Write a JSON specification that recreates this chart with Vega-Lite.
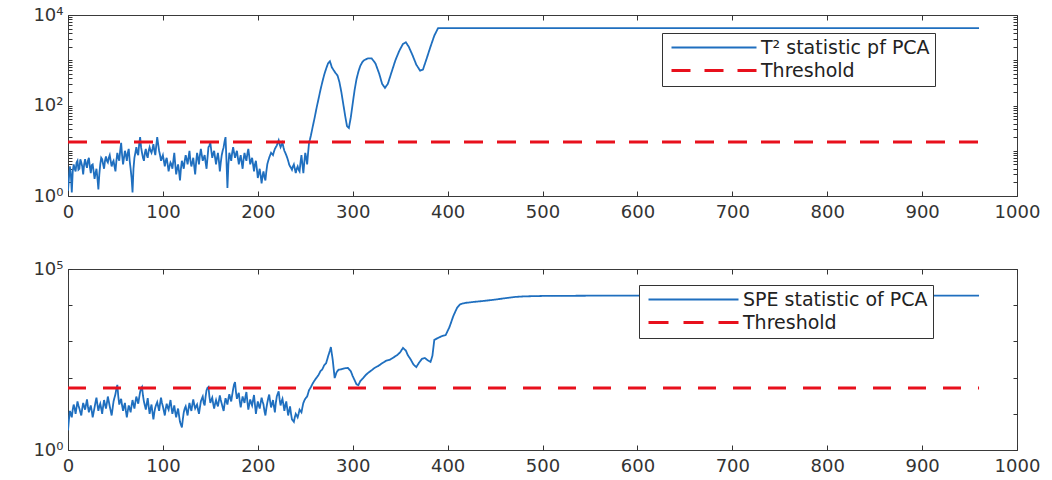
{
  "$schema": "https://vega.github.io/schema/vega-lite/v6.json",
  "padding": {"left": 32, "top": 5, "right": 5, "bottom": 5},
  "background": "white",
  "bounds": "flush",
  "spacing": 73,
  "config": {
    "view": {"stroke": "#3a3a3a", "strokeWidth": 1},
    "font": "DejaVu Sans",
    "axis": {"grid": false, "domain": false, "labelFont": "DejaVu Sans", "labelFontSize": 18, "labelColor": "#333333", "tickColor": "#333333", "tickWidth": 1, "labelFlush": false, "labelOverlap": false, "labelBound": false},
    "legend": {"labelFont": "DejaVu Sans", "labelFontSize": 19, "labelColor": "#222222"}
  },
  "datasets": {
    "t2": [
      {"i":0,"v":1.3},{"i":1,"v":2.5},{"i":2,"v":4.5},{"i":3,"v":3},{"i":4,"v":1.2},{"i":5,"v":3.5},{"i":6,"v":5},{"i":7,"v":4},{"i":8,"v":3.5},{"i":9,"v":5.5},
      {"i":10,"v":6},{"i":11,"v":3.8},{"i":12,"v":4},{"i":13,"v":6.5},{"i":14,"v":5.5},{"i":15,"v":4.5},{"i":16,"v":3},{"i":17,"v":5},{"i":18,"v":6.5},{"i":19,"v":5},
      {"i":20,"v":4.2},{"i":21,"v":6},{"i":22,"v":7},{"i":23,"v":4.5},{"i":24,"v":3.2},{"i":25,"v":4.8},{"i":26,"v":5},{"i":27,"v":3.5},{"i":28,"v":2.4},{"i":29,"v":3.2},
      {"i":30,"v":4},{"i":31,"v":2.5},{"i":32,"v":1.4},{"i":33,"v":3},{"i":34,"v":5},{"i":35,"v":7},{"i":36,"v":6.5},{"i":37,"v":5},{"i":38,"v":4},{"i":39,"v":6},
      {"i":40,"v":7.5},{"i":41,"v":6},{"i":42,"v":5.5},{"i":43,"v":7},{"i":44,"v":8},{"i":45,"v":6},{"i":46,"v":4.5},{"i":47,"v":5.5},{"i":48,"v":6},{"i":49,"v":4.5},
      {"i":50,"v":3.5},{"i":51,"v":6},{"i":52,"v":9},{"i":53,"v":7},{"i":54,"v":6},{"i":55,"v":10},{"i":56,"v":15},{"i":57,"v":8},{"i":58,"v":5},{"i":59,"v":7},
      {"i":60,"v":10},{"i":61,"v":8},{"i":62,"v":6},{"i":63,"v":9},{"i":64,"v":11},{"i":65,"v":6},{"i":66,"v":4},{"i":67,"v":2.5},{"i":68,"v":1.2},{"i":69,"v":4},
      {"i":70,"v":7},{"i":71,"v":9},{"i":72,"v":12},{"i":73,"v":9},{"i":74,"v":8},{"i":75,"v":14},{"i":76,"v":20},{"i":77,"v":12},{"i":78,"v":9},{"i":79,"v":7},
      {"i":80,"v":6},{"i":81,"v":9},{"i":82,"v":11},{"i":83,"v":8},{"i":84,"v":7},{"i":85,"v":10},{"i":86,"v":12},{"i":87,"v":10},{"i":88,"v":9},{"i":89,"v":11},
      {"i":90,"v":14},{"i":91,"v":10},{"i":92,"v":8},{"i":93,"v":13},{"i":94,"v":20},{"i":95,"v":14},{"i":96,"v":10},{"i":97,"v":8},{"i":98,"v":6},{"i":99,"v":7},
      {"i":100,"v":8},{"i":101,"v":6},{"i":102,"v":4.5},{"i":103,"v":6},{"i":104,"v":7},{"i":105,"v":5},{"i":106,"v":3.5},{"i":107,"v":4.5},{"i":108,"v":5.5},{"i":109,"v":5},
      {"i":110,"v":4},{"i":111,"v":6},{"i":112,"v":9},{"i":113,"v":5},{"i":114,"v":3},{"i":115,"v":4},{"i":116,"v":5},{"i":117,"v":3.5},{"i":118,"v":2.2},{"i":119,"v":4},
      {"i":120,"v":6},{"i":121,"v":5},{"i":122,"v":4},{"i":123,"v":6},{"i":124,"v":8},{"i":125,"v":6.5},{"i":126,"v":5},{"i":127,"v":7},{"i":128,"v":10},{"i":129,"v":6},
      {"i":130,"v":4.5},{"i":131,"v":5.5},{"i":132,"v":7},{"i":133,"v":4.5},{"i":134,"v":3},{"i":135,"v":5.5},{"i":136,"v":9},{"i":137,"v":7},{"i":138,"v":5},{"i":139,"v":8},
      {"i":140,"v":11},{"i":141,"v":8},{"i":142,"v":6},{"i":143,"v":7},{"i":144,"v":8},{"i":145,"v":5.5},{"i":146,"v":4},{"i":147,"v":7},{"i":148,"v":12},{"i":149,"v":13},
      {"i":150,"v":15},{"i":151,"v":10},{"i":152,"v":7},{"i":153,"v":8.5},{"i":154,"v":10},{"i":155,"v":7},{"i":156,"v":5},{"i":157,"v":7},{"i":158,"v":9},{"i":159,"v":6},
      {"i":160,"v":3.5},{"i":161,"v":5.5},{"i":162,"v":8},{"i":163,"v":10},{"i":164,"v":12},{"i":165,"v":16},{"i":166,"v":20},{"i":167,"v":6},{"i":168,"v":1.5},{"i":169,"v":5},
      {"i":170,"v":9},{"i":171,"v":7.5},{"i":172,"v":6},{"i":173,"v":9},{"i":174,"v":12},{"i":175,"v":9},{"i":176,"v":7},{"i":177,"v":8.5},{"i":178,"v":10},{"i":179,"v":7},
      {"i":180,"v":5},{"i":181,"v":6.5},{"i":182,"v":8},{"i":183,"v":5.5},{"i":184,"v":4},{"i":185,"v":6.5},{"i":186,"v":9},{"i":187,"v":7},{"i":188,"v":6},{"i":189,"v":8.5},
      {"i":190,"v":11},{"i":191,"v":7.5},{"i":192,"v":5},{"i":193,"v":6},{"i":194,"v":7},{"i":195,"v":5},{"i":196,"v":3.5},{"i":197,"v":5},{"i":198,"v":6},{"i":199,"v":4},
      {"i":200,"v":2.5},{"i":201,"v":3.2},{"i":202,"v":4},{"i":203,"v":2.8},{"i":204,"v":1.9},{"i":205,"v":2.8},{"i":206,"v":3.5},{"i":207,"v":2.6},{"i":208,"v":2.2},{"i":209,"v":3.5},
      {"i":210,"v":5},{"i":211,"v":6},{"i":212,"v":7},{"i":213,"v":8},{"i":214,"v":9},{"i":215,"v":8.5},{"i":216,"v":8},{"i":217,"v":9.5},{"i":218,"v":11},{"i":219,"v":12},
      {"i":220,"v":13},{"i":221,"v":15},{"i":222,"v":17},{"i":223,"v":14},{"i":224,"v":12},{"i":225,"v":13.5},{"i":226,"v":15},{"i":227,"v":12},{"i":228,"v":10},{"i":229,"v":9},
      {"i":230,"v":8},{"i":231,"v":7},{"i":232,"v":6},{"i":233,"v":5},{"i":234,"v":4.5},{"i":235,"v":4.2},{"i":236,"v":3.8},{"i":237,"v":4.5},{"i":238,"v":5},{"i":239,"v":4},
      {"i":240,"v":3.2},{"i":241,"v":4},{"i":242,"v":4.5},{"i":243,"v":3.8},{"i":244,"v":3.5},{"i":245,"v":5.5},{"i":246,"v":8},{"i":247,"v":5},{"i":248,"v":3.2},{"i":249,"v":5.5},
      {"i":250,"v":9},{"i":251,"v":7},{"i":252,"v":5},{"i":253,"v":9},{"i":254,"v":15},{"i":255,"v":18},
      {"i":256,"v":22},{"i":258,"v":35},{"i":260,"v":55},{"i":262,"v":90},{"i":264,"v":140},{"i":266,"v":220},{"i":268,"v":330},{"i":270,"v":480},{"i":272,"v":650},{"i":274,"v":850},
      {"i":276,"v":950},{"i":278,"v":700},{"i":280,"v":600},{"i":282,"v":520},{"i":284,"v":460},{"i":286,"v":330},{"i":288,"v":200},{"i":290,"v":110},{"i":292,"v":60},{"i":294,"v":35},
      {"i":296,"v":32},{"i":298,"v":55},{"i":300,"v":110},{"i":302,"v":220},{"i":304,"v":380},{"i":306,"v":560},{"i":308,"v":750},{"i":310,"v":900},{"i":312,"v":1000},{"i":316,"v":1100},
      {"i":320,"v":1100},{"i":324,"v":850},{"i":328,"v":500},{"i":331,"v":300},{"i":334,"v":245},{"i":337,"v":300},{"i":341,"v":550},{"i":345,"v":1000},{"i":349,"v":1600},{"i":353,"v":2300},
      {"i":356,"v":2500},{"i":359,"v":2000},{"i":363,"v":1300},{"i":367,"v":800},{"i":371,"v":590},{"i":374,"v":620},{"i":378,"v":1100},{"i":382,"v":2000},{"i":386,"v":3500},{"i":390,"v":5150},
      {"i":450,"v":5150},{"i":500,"v":5150},{"i":600,"v":5150},{"i":700,"v":5150},{"i":800,"v":5150},{"i":900,"v":5150},{"i":960,"v":5150}
    ],
    "t2thr": [{"i":0,"v":15.6},{"i":960,"v":15.6}],
    "spe": [
      {"i":0,"v":3.5},{"i":1,"v":7},{"i":2,"v":12},{"i":3,"v":10},{"i":4,"v":8},{"i":5,"v":13},{"i":6,"v":18},{"i":7,"v":14},{"i":8,"v":10},{"i":9,"v":15},
      {"i":10,"v":22},{"i":11,"v":17},{"i":12,"v":14},{"i":13,"v":11},{"i":14,"v":9},{"i":15,"v":14},{"i":16,"v":20},{"i":17,"v":16},{"i":18,"v":13},{"i":19,"v":18},
      {"i":20,"v":25},{"i":21,"v":16},{"i":22,"v":11},{"i":23,"v":14},{"i":24,"v":17},{"i":25,"v":12},{"i":26,"v":8},{"i":27,"v":11},{"i":28,"v":15},{"i":29,"v":21},
      {"i":30,"v":28},{"i":31,"v":18},{"i":32,"v":12},{"i":33,"v":16},{"i":34,"v":19},{"i":35,"v":14},{"i":36,"v":10},{"i":37,"v":16},{"i":38,"v":24},{"i":39,"v":18},
      {"i":40,"v":14},{"i":41,"v":20},{"i":42,"v":30},{"i":43,"v":22},{"i":44,"v":16},{"i":45,"v":12},{"i":46,"v":9},{"i":47,"v":14},{"i":48,"v":22},{"i":49,"v":28},
      {"i":50,"v":35},{"i":51,"v":50},{"i":52,"v":63},{"i":53,"v":30},{"i":54,"v":18},{"i":55,"v":22},{"i":56,"v":26},{"i":57,"v":17},{"i":58,"v":12},{"i":59,"v":16},
      {"i":60,"v":20},{"i":61,"v":12},{"i":62,"v":8},{"i":63,"v":12},{"i":64,"v":17},{"i":65,"v":14},{"i":66,"v":11},{"i":67,"v":17},{"i":68,"v":24},{"i":69,"v":18},
      {"i":70,"v":14},{"i":71,"v":21},{"i":72,"v":30},{"i":73,"v":24},{"i":74,"v":19},{"i":75,"v":28},{"i":76,"v":40},{"i":77,"v":50},{"i":78,"v":55},{"i":79,"v":32},
      {"i":80,"v":22},{"i":81,"v":17},{"i":82,"v":13},{"i":83,"v":19},{"i":84,"v":27},{"i":85,"v":16},{"i":86,"v":10},{"i":87,"v":14},{"i":88,"v":18},{"i":89,"v":11},
      {"i":90,"v":7},{"i":91,"v":11},{"i":92,"v":15},{"i":93,"v":18},{"i":94,"v":21},{"i":95,"v":16},{"i":96,"v":12},{"i":97,"v":19},{"i":98,"v":28},{"i":99,"v":20},
      {"i":100,"v":16},{"i":101,"v":12},{"i":102,"v":9},{"i":103,"v":14},{"i":104,"v":19},{"i":105,"v":15},{"i":106,"v":13},{"i":107,"v":18},{"i":108,"v":24},{"i":109,"v":15},
      {"i":110,"v":10},{"i":111,"v":13},{"i":112,"v":17},{"i":113,"v":11},{"i":114,"v":8},{"i":115,"v":11},{"i":116,"v":14},{"i":117,"v":9},{"i":118,"v":6},{"i":119,"v":5},
      {"i":120,"v":4.2},{"i":121,"v":7},{"i":122,"v":11},{"i":123,"v":14},{"i":124,"v":16},{"i":125,"v":12},{"i":126,"v":9},{"i":127,"v":14},{"i":128,"v":20},{"i":129,"v":15},
      {"i":130,"v":12},{"i":131,"v":18},{"i":132,"v":25},{"i":133,"v":18},{"i":134,"v":14},{"i":135,"v":16},{"i":136,"v":18},{"i":137,"v":13},{"i":138,"v":10},{"i":139,"v":15},
      {"i":140,"v":22},{"i":141,"v":26},{"i":142,"v":30},{"i":143,"v":20},{"i":144,"v":17},{"i":145,"v":30},{"i":146,"v":45},{"i":147,"v":52},{"i":148,"v":55},{"i":149,"v":30},
      {"i":150,"v":20},{"i":151,"v":24},{"i":152,"v":28},{"i":153,"v":19},{"i":154,"v":14},{"i":155,"v":19},{"i":156,"v":24},{"i":157,"v":19},{"i":158,"v":16},{"i":159,"v":23},
      {"i":160,"v":32},{"i":161,"v":24},{"i":162,"v":19},{"i":163,"v":15},{"i":164,"v":12},{"i":165,"v":19},{"i":166,"v":27},{"i":167,"v":22},{"i":168,"v":18},{"i":169,"v":26},
      {"i":170,"v":35},{"i":171,"v":27},{"i":172,"v":22},{"i":173,"v":33},{"i":174,"v":48},{"i":175,"v":65},{"i":176,"v":75},{"i":177,"v":40},{"i":178,"v":26},{"i":179,"v":32},
      {"i":180,"v":38},{"i":181,"v":22},{"i":182,"v":15},{"i":183,"v":22},{"i":184,"v":30},{"i":185,"v":24},{"i":186,"v":20},{"i":187,"v":30},{"i":188,"v":40},{"i":189,"v":22},
      {"i":190,"v":13},{"i":191,"v":18},{"i":192,"v":25},{"i":193,"v":20},{"i":194,"v":17},{"i":195,"v":24},{"i":196,"v":33},{"i":197,"v":18},{"i":198,"v":10},{"i":199,"v":15},
      {"i":200,"v":22},{"i":201,"v":17},{"i":202,"v":14},{"i":203,"v":20},{"i":204,"v":28},{"i":205,"v":22},{"i":206,"v":18},{"i":207,"v":12},{"i":208,"v":9},{"i":209,"v":14},
      {"i":210,"v":20},{"i":211,"v":27},{"i":212,"v":34},{"i":213,"v":22},{"i":214,"v":15},{"i":215,"v":19},{"i":216,"v":24},{"i":217,"v":16},{"i":218,"v":11},{"i":219,"v":20},
      {"i":220,"v":30},{"i":221,"v":36},{"i":222,"v":42},{"i":223,"v":25},{"i":224,"v":17},{"i":225,"v":22},{"i":226,"v":26},{"i":227,"v":18},{"i":228,"v":12},{"i":229,"v":17},
      {"i":230,"v":22},{"i":231,"v":14},{"i":232,"v":9},{"i":233,"v":12},{"i":234,"v":16},{"i":235,"v":10},{"i":236,"v":7},{"i":237,"v":6.5},{"i":238,"v":6},{"i":239,"v":8},
      {"i":240,"v":10},{"i":241,"v":9},{"i":242,"v":8},{"i":243,"v":10},{"i":244,"v":13},{"i":245,"v":12},{"i":246,"v":11},{"i":247,"v":15},{"i":248,"v":20},{"i":249,"v":23},
      {"i":250,"v":26},{"i":251,"v":28},
      {"i":252,"v":30},{"i":254,"v":45},{"i":256,"v":55},{"i":258,"v":70},{"i":260,"v":85},{"i":262,"v":100},{"i":264,"v":118},{"i":266,"v":150},{"i":268,"v":170},{"i":270,"v":220},
      {"i":272,"v":250},{"i":274,"v":380},{"i":276,"v":560},{"i":277,"v":700},{"i":279,"v":300},{"i":281,"v":97},{"i":283,"v":140},{"i":285,"v":165},{"i":288,"v":170},{"i":291,"v":180},
      {"i":295,"v":185},{"i":298,"v":150},{"i":300,"v":110},{"i":302,"v":85},{"i":304,"v":65},{"i":306,"v":62},{"i":308,"v":80},{"i":311,"v":97},{"i":314,"v":120},{"i":317,"v":140},
      {"i":320,"v":160},{"i":323,"v":185},{"i":327,"v":210},{"i":331,"v":250},{"i":335,"v":290},{"i":339,"v":310},{"i":343,"v":360},{"i":347,"v":420},{"i":350,"v":500},{"i":353,"v":660},
      {"i":356,"v":560},{"i":358,"v":420},{"i":361,"v":320},{"i":364,"v":230},{"i":367,"v":195},{"i":370,"v":260},{"i":373,"v":330},{"i":376,"v":350},{"i":379,"v":300},{"i":382,"v":270},
      {"i":384,"v":400},{"i":386,"v":1100},{"i":390,"v":1250},{"i":394,"v":1400},{"i":398,"v":1500},{"i":402,"v":2500},{"i":406,"v":5000},{"i":410,"v":8500},{"i":413,"v":10500},{"i":416,"v":11200},
      {"i":420,"v":11700},{"i":430,"v":12500},{"i":440,"v":13300},{"i":450,"v":14300},{"i":460,"v":15500},{"i":470,"v":16800},{"i":480,"v":17500},{"i":500,"v":18000},{"i":550,"v":18300},{"i":600,"v":18400},
      {"i":700,"v":18500},{"i":800,"v":18500},{"i":960,"v":18500}
    ],
    "spethr": [{"i":0,"v":51.6},{"i":960,"v":51.6}]
  },
  "vconcat": [
    {
      "width": 949,
      "height": 181,
      "resolve": {"axis": {"x": "independent", "y": "independent"}},
      "layer": [
        {
          "data": {"name": "t2"},
          "mark": {"type": "line", "clip": true},
          "encoding": {
            "x": {"field": "i", "type": "quantitative", "scale": {"domain": [0, 1000], "nice": false, "zero": false},
                  "axis": {"orient": "bottom", "title": null, "format": "d", "values": [0,100,200,300,400,500,600,700,800,900,1000], "tickSize": -5, "labelPadding": 12}},
            "y": {"field": "v", "type": "quantitative", "scale": {"type": "log", "domain": [1, 10000], "nice": false},
                  "axis": {"orient": "left", "title": null,
                           "values": [1,2,3,4,5,6,7,8,9,10,20,30,40,50,60,70,80,90,100,200,300,400,500,600,700,800,900,1000,2000,3000,4000,5000,6000,7000,8000,9000,10000],
                           "labelExpr": "datum.value == 1 ? '10⁰' : datum.value == 100 ? '10²' : datum.value == 10000 ? '10⁴' : ''",
                           "tickSize": -4, "labelPadding": 9}},
            "color": {"datum": "T² statistic pf PCA", "type": "nominal",
                      "scale": {"domain": ["T² statistic pf PCA", "Threshold"], "range": ["#1f6fbf", "#e8101c"]},
                      "legend": {"title": null, "orient": "none", "legendX": 594, "legendY": 18, "strokeColor": "#333333", "fillColor": "white", "padding": 5, "symbolType": "M-1,0H16", "symbolSize": 100, "rowPadding": 3, "labelOffset": 75, "labelLimit": 400}},
            "strokeDash": {"datum": "T² statistic pf PCA", "type": "nominal",
                      "scale": {"domain": ["T² statistic pf PCA", "Threshold"], "range": [[1, 0], [19, 14]]}},
            "strokeWidth": {"datum": "T² statistic pf PCA", "type": "nominal",
                      "scale": {"domain": ["T² statistic pf PCA", "Threshold"], "range": [1.8, 3.2]}}
          }
        },
        {
          "data": {"name": "t2thr"},
          "mark": {"type": "line", "clip": true, "strokeDash": [18, 17]},
          "encoding": {
            "x": {"field": "i", "type": "quantitative",
                  "axis": {"orient": "top", "title": null, "values": [0,100,200,300,400,500,600,700,800,900,1000], "tickSize": -5, "labels": false}},
            "y": {"field": "v", "type": "quantitative",
                  "axis": {"orient": "right", "title": null,
                           "values": [1,2,3,4,5,6,7,8,9,10,20,30,40,50,60,70,80,90,100,200,300,400,500,600,700,800,900,1000,2000,3000,4000,5000,6000,7000,8000,9000,10000],
                           "tickSize": -4, "labels": false}},
            "color": {"datum": "Threshold", "type": "nominal"},
            "strokeDash": {"datum": "Threshold", "type": "nominal"},
            "strokeWidth": {"datum": "Threshold", "type": "nominal"}
          }
        }
      ]
    },
    {
      "width": 949,
      "height": 181,
      "resolve": {"axis": {"x": "independent", "y": "independent"}},
      "layer": [
        {
          "data": {"name": "spe"},
          "mark": {"type": "line", "clip": true},
          "encoding": {
            "x": {"field": "i", "type": "quantitative", "scale": {"domain": [0, 1000], "nice": false, "zero": false},
                  "axis": {"orient": "bottom", "title": null, "format": "d", "values": [0,100,200,300,400,500,600,700,800,900,1000], "tickSize": -5, "labelPadding": 12}},
            "y": {"field": "v", "type": "quantitative", "scale": {"type": "log", "domain": [1, 100000], "nice": false},
                  "axis": {"orient": "left", "title": null,
                           "values": [1,10,100,1000,10000,100000],
                           "labelExpr": "datum.value == 1 ? '10⁰' : datum.value == 100000 ? '10⁵' : ''",
                           "tickSize": -4, "labelPadding": 9}},
            "color": {"datum": "SPE statistic of PCA", "type": "nominal",
                      "scale": {"domain": ["SPE statistic of PCA", "Threshold"], "range": ["#1f6fbf", "#e8101c"]},
                      "legend": {"title": null, "orient": "none", "legendX": 571, "legendY": 16, "strokeColor": "#333333", "fillColor": "white", "padding": 5, "symbolType": "M-1,0H17", "symbolSize": 100, "rowPadding": 3, "labelOffset": 80, "labelLimit": 400}},
            "strokeDash": {"datum": "SPE statistic of PCA", "type": "nominal",
                      "scale": {"domain": ["SPE statistic of PCA", "Threshold"], "range": [[1, 0], [20, 15]]}},
            "strokeWidth": {"datum": "SPE statistic of PCA", "type": "nominal",
                      "scale": {"domain": ["SPE statistic of PCA", "Threshold"], "range": [1.8, 3.2]}}
          }
        },
        {
          "data": {"name": "spethr"},
          "mark": {"type": "line", "clip": true, "strokeDash": [18, 17]},
          "encoding": {
            "x": {"field": "i", "type": "quantitative",
                  "axis": {"orient": "top", "title": null, "values": [0,100,200,300,400,500,600,700,800,900,1000], "tickSize": -5, "labels": false}},
            "y": {"field": "v", "type": "quantitative",
                  "axis": {"orient": "right", "title": null, "values": [1,10,100,1000,10000,100000], "tickSize": -4, "labels": false}},
            "color": {"datum": "Threshold", "type": "nominal"},
            "strokeWidth": {"datum": "Threshold", "type": "nominal"}
          }
        }
      ]
    }
  ],
  "resolve": {"scale": {"color": "independent", "strokeDash": "independent", "strokeWidth": "independent"}}
}
